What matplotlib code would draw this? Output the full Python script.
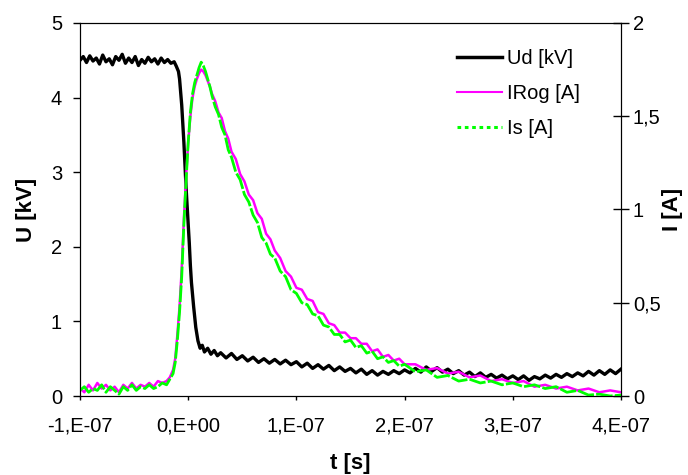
import matplotlib
matplotlib.use("Agg")
import matplotlib.pyplot as plt
from matplotlib.lines import Line2D
from matplotlib import ticker
import numpy as np

plt.rcParams['font.family'] = ['Liberation Sans', 'DejaVu Sans']

# time in ns, voltage Ud in kV
t_u = [-100, -97, -94, -91, -88, -85, -82, -79, -76, -73, -70, -67, -64, -61, -58,
       -55, -52, -49, -46, -43, -40, -37, -34, -31, -28, -25, -22, -19, -16, -13,
       -11, -9, -8, -7, -6, -5, -4, -3, -2, -1, 0, 1, 2, 3, 5, 7, 9, 11, 13, 15,
       18, 21, 24, 27, 30, 35, 40, 45, 50, 55, 60, 65, 70, 75, 80, 85, 90, 95,
       100, 105, 110, 115, 120, 125, 130, 135, 140, 145, 150, 155, 160, 165, 170,
       175, 180, 185, 190, 195, 200, 205, 210, 215, 220, 225, 230, 235, 240, 245,
       250, 255, 260, 265, 270, 275, 280, 285, 290, 295, 300, 305, 310, 315, 320,
       325, 330, 335, 340, 345, 350, 355, 360, 365, 370, 375, 380, 385, 390, 395, 400]
ud = [4.50, 4.55, 4.47, 4.56, 4.49, 4.53, 4.45, 4.57, 4.48, 4.52, 4.44, 4.55, 4.50, 4.58, 4.46,
      4.53, 4.47, 4.55, 4.43, 4.51, 4.46, 4.54, 4.48, 4.52, 4.45, 4.53, 4.47, 4.51, 4.46, 4.48,
      4.42, 4.35, 4.25, 4.08, 3.90, 3.65, 3.40, 3.10, 2.80, 2.55, 2.30, 2.05, 1.75, 1.52, 1.20, 0.92, 0.74, 0.64, 0.68, 0.59,
      0.64, 0.56, 0.61, 0.54, 0.58, 0.51, 0.57, 0.49, 0.54, 0.47, 0.52, 0.45, 0.50, 0.44, 0.49, 0.43, 0.48, 0.42,
      0.46, 0.39, 0.44, 0.37, 0.42, 0.36, 0.41, 0.34, 0.39, 0.33, 0.37, 0.31, 0.36, 0.29, 0.34,
      0.28, 0.33, 0.29, 0.34, 0.30, 0.35, 0.31, 0.37, 0.32, 0.39, 0.33, 0.38, 0.32, 0.36, 0.30,
      0.34, 0.28, 0.32, 0.26, 0.31, 0.25, 0.29, 0.24, 0.28, 0.23, 0.27, 0.22, 0.27, 0.21, 0.26,
      0.23, 0.28, 0.24, 0.29, 0.25, 0.30, 0.26, 0.31, 0.27, 0.33, 0.28, 0.34, 0.29, 0.35, 0.30, 0.36]

# time in ns, currents in A
t_i = [-100, -96, -92, -88, -84, -80, -76, -72, -68, -64, -60, -56, -52, -48, -44,
       -40, -36, -32, -28, -24, -20, -17, -14, -12, -10, -8, -6, -4, -2, 0, 2, 4,
       6, 8, 10, 12, 14, 16, 18, 20, 22, 25, 28, 31, 34, 37, 40, 44, 48, 52, 56,
       60, 64, 68, 72, 76, 80, 85, 90, 95, 100, 105, 110, 115, 120, 125, 130, 135,
       140, 145, 150, 155, 160, 165, 170, 175, 180, 185, 190, 195, 200, 210, 220,
       230, 240, 250, 260, 270, 280, 290, 300, 310, 320, 330, 340, 350, 360, 370,
       380, 390, 400]
i_rog = [0.04, 0.02, 0.06, 0.03, 0.07, 0.04, 0.06, 0.03, 0.05, 0.02, 0.06, 0.04, 0.07, 0.04, 0.06,
         0.05, 0.07, 0.05, 0.08, 0.07, 0.08, 0.10, 0.14, 0.20, 0.33, 0.48, 0.68, 0.95, 1.17, 1.36, 1.50, 1.60,
         1.66, 1.70, 1.73, 1.75, 1.74, 1.72, 1.69, 1.66, 1.62, 1.58, 1.52, 1.49, 1.42, 1.38, 1.31, 1.27, 1.19, 1.15, 1.08,
         1.05, 0.98, 0.95, 0.87, 0.84, 0.78, 0.74, 0.67, 0.64, 0.58, 0.57, 0.52, 0.51, 0.45, 0.44, 0.39, 0.38,
         0.34, 0.34, 0.31, 0.31, 0.28, 0.28, 0.24, 0.25, 0.21, 0.22, 0.19, 0.20, 0.17, 0.17, 0.14,
         0.15, 0.12, 0.13, 0.10, 0.11, 0.08, 0.09, 0.07, 0.08, 0.05, 0.06, 0.04, 0.05, 0.03, 0.04,
         0.02, 0.03, 0.02]
i_s = [0.03, 0.05, 0.02, 0.04, 0.03, 0.06, 0.02, 0.05, 0.03, 0.01, 0.05, 0.03, 0.06, 0.03, 0.05,
       0.04, 0.06, 0.04, 0.05, 0.07, 0.06, 0.09, 0.12, 0.18, 0.30, 0.45, 0.64, 0.92, 1.15, 1.36, 1.52, 1.62,
       1.68, 1.72, 1.76, 1.79, 1.77, 1.74, 1.70, 1.66, 1.61, 1.55, 1.51, 1.44, 1.40, 1.32, 1.28, 1.20, 1.16, 1.08, 1.04,
       0.97, 0.93, 0.85, 0.82, 0.76, 0.74, 0.67, 0.64, 0.57, 0.55, 0.50, 0.49, 0.44, 0.43, 0.38, 0.37, 0.33,
       0.33, 0.29, 0.30, 0.26, 0.27, 0.23, 0.24, 0.20, 0.21, 0.18, 0.19, 0.16, 0.17, 0.13, 0.14,
       0.10, 0.11, 0.08, 0.09, 0.07, 0.08, 0.06, 0.07, 0.05, 0.06, 0.04, 0.05, 0.02, 0.03, 0.005,
       0.01, 0.0, 0.005]

t_u = np.array(t_u) * 1e-9
t_i = np.array(t_i) * 1e-9


def sci_comma(v, pos):
    if abs(v) < 1e-15:
        return "0,E+00"
    exp = int(np.floor(np.log10(abs(v)) + 1e-9))
    mant = int(round(v / 10 ** exp))
    return "%d,E%+03d" % (mant, exp)


def dec_comma(v, pos):
    return ("%g" % v).replace(".", ",")


fig = plt.figure(figsize=(6.88, 4.75), dpi=100)
ax = fig.add_axes([0.1163, 0.1663, 0.7863, 0.7853])
ax2 = ax.twinx()

ax.plot(t_u, ud, color='black', lw=2.4, zorder=3)
ax2.plot(t_i, i_rog, color='#FF00FF', lw=1.8)
ax2.plot(t_i, i_s, color='#00FF00', lw=2.0, ls=(0, (6, 0.8)))

ax.set_xlim(-1e-7, 4e-7)
ax.set_ylim(0, 5)
ax2.set_ylim(0, 2)
ax.set_xticks([-1e-7, 0, 1e-7, 2e-7, 3e-7, 4e-7])
ax.xaxis.set_major_formatter(ticker.FuncFormatter(sci_comma))
ax.set_yticks([0, 1, 2, 3, 4, 5])
ax2.set_yticks([0, 0.5, 1, 1.5, 2])
ax2.yaxis.set_major_formatter(ticker.FuncFormatter(dec_comma))

ax.tick_params(axis='y', labelsize=14.5, direction='out', length=5, width=1, pad=8)
ax.tick_params(axis='x', labelsize=14.5, direction='out', length=3, width=1, pad=11.5)
ax2.tick_params(axis='y', labelsize=14.5, direction='inout', length=11, width=1, pad=3)

ax.set_xlabel('t [s]', fontsize=16, fontweight='bold', labelpad=12.5)
ax.set_ylabel('U [kV]', fontsize=16, fontweight='bold', labelpad=10)
ax2.set_ylabel('I [A]', fontsize=16, fontweight='bold', labelpad=1)

handles = [Line2D([], [], color='black', lw=2.5),
           Line2D([], [], color='#FF00FF', lw=1.5),
           Line2D([], [], color='#00FF00', lw=2.2, ls=(0, (1.2, 1.2)))]
ax2.legend(handles, ['Ud [kV]', 'IRog [A]', 'Is [A]'], loc='upper left',
           bbox_to_anchor=(0.682, 0.952), frameon=False, fontsize=14.5,
           handlelength=2.25, handletextpad=0.25, labelspacing=0.8, borderaxespad=0)

fig.savefig('out.png', dpi=100)
